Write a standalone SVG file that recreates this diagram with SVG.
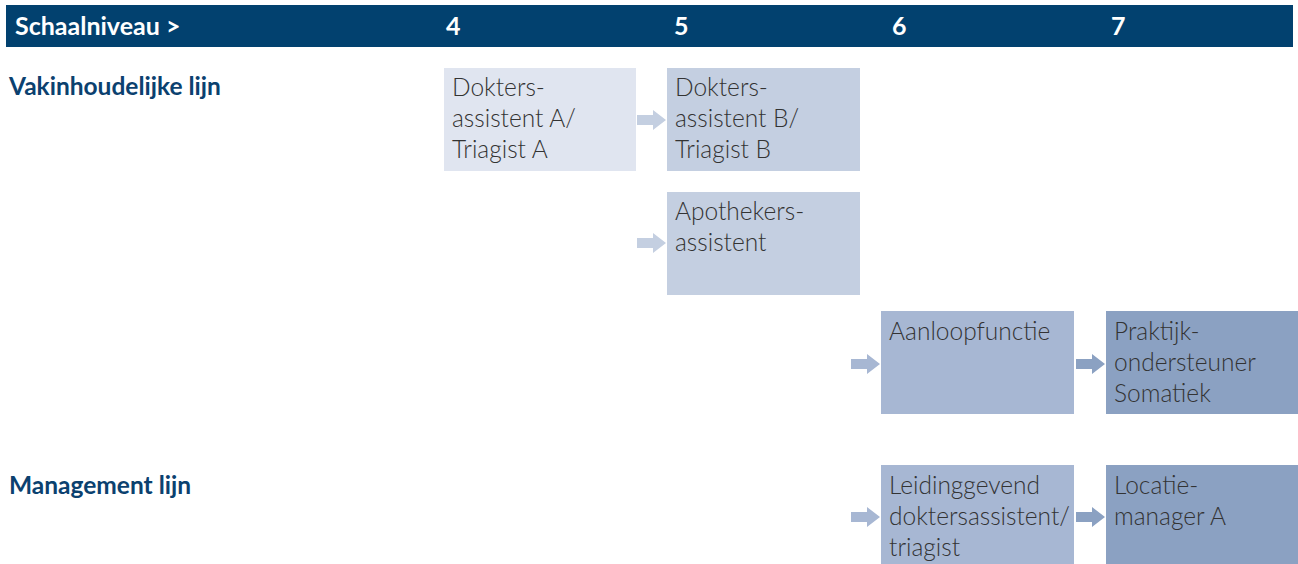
<svg xmlns="http://www.w3.org/2000/svg" width="1298" height="564" viewBox="0 0 1298 564">
<style>
.hdr{font-family:Lato,"Noto Sans",sans-serif;font-size:25px;font-weight:700;fill:#ffffff}
.lbl{font-family:Lato,"Noto Sans",sans-serif;font-size:24.5px;font-weight:700;fill:#0b416f}
.t{font-family:Lato,"Noto Sans",sans-serif;font-size:24.5px;font-weight:300;fill:#333333}
.c1{fill:#e0e5f0}.c2{fill:#c4cfe1}.c3{fill:#a7b7d3}.c4{fill:#8ba1c2}
</style>
<defs>
<path id="arr" d="M0,-5 H16 V-10 L29,0 L16,10 V5 H0 Z"/>
</defs>
<g id="header">
<rect x="6" y="5" width="1287" height="42" fill="#02416f"/>
<text class="hdr" x="15" y="35">Schaalniveau &gt;</text>
<text class="hdr" x="446" y="35">4</text>
<text class="hdr" x="674" y="35">5</text>
<text class="hdr" x="892" y="35">6</text>
<text class="hdr" x="1111" y="35">7</text>
</g>
<g id="lines">
<text class="lbl" x="9" y="95">Vakinhoudelijke lijn</text>
<text class="lbl" x="9" y="494">Management lijn</text>
</g>
<g id="connectors">
<use href="#arr" x="637" y="120" class="c2"/>
<use href="#arr" x="637" y="243" class="c2"/>
<use href="#arr" x="851" y="364" class="c3"/>
<use href="#arr" x="1076" y="364" class="c4"/>
<use href="#arr" x="851" y="517" class="c3"/>
<use href="#arr" x="1076" y="517" class="c4"/>
</g>
<g id="node-da">
<rect x="444" y="68" width="192" height="103" class="c1"/>
<text class="t" x="452" y="96">Dokters-</text>
<text class="t" x="452" y="127">assistent A/</text>
<text class="t" x="452" y="158">Triagist A</text>
</g>
<g id="node-db">
<rect x="667" y="68" width="193" height="103" class="c2"/>
<text class="t" x="675" y="96">Dokters-</text>
<text class="t" x="675" y="127">assistent B/</text>
<text class="t" x="675" y="158">Triagist B</text>
</g>
<g id="node-apo">
<rect x="667" y="192" width="193" height="103" class="c2"/>
<text class="t" x="675" y="220">Apothekers-</text>
<text class="t" x="675" y="251">assistent</text>
</g>
<g id="node-aanloop">
<rect x="881" y="311" width="193" height="103" class="c3"/>
<text class="t" x="889" y="340">Aanloopfunctie</text>
</g>
<g id="node-poh">
<rect x="1106" y="311" width="192" height="103" class="c4"/>
<text class="t" x="1114" y="340">Praktijk-</text>
<text class="t" x="1114" y="371">ondersteuner</text>
<text class="t" x="1114" y="402">Somatiek</text>
</g>
<g id="node-leid">
<rect x="881" y="465" width="193" height="99" class="c3"/>
<text class="t" x="889" y="494">Leidinggevend</text>
<text class="t" x="889" y="525">doktersassistent/</text>
<text class="t" x="889" y="556">triagist</text>
</g>
<g id="node-loc">
<rect x="1106" y="465" width="192" height="99" class="c4"/>
<text class="t" x="1114" y="494">Locatie-</text>
<text class="t" x="1114" y="525">manager A</text>
</g>
</svg>
